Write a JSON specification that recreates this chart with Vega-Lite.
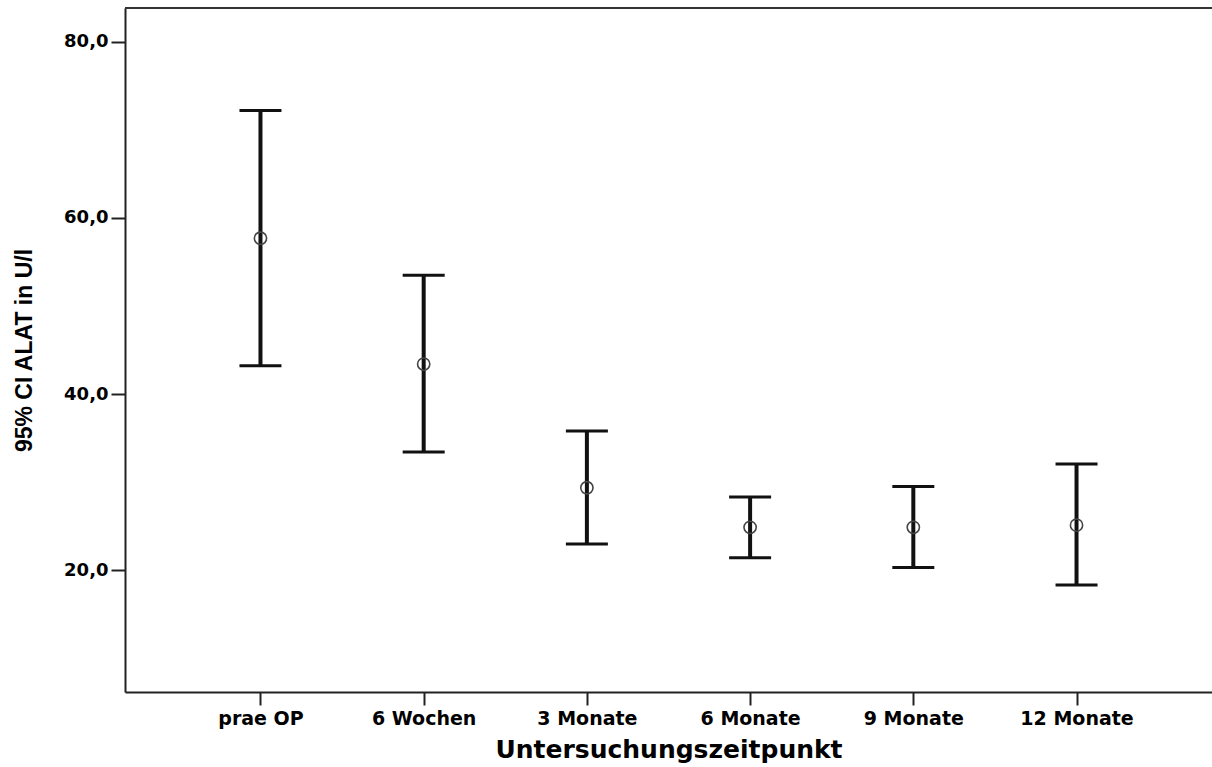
{
  "$schema": "https://vega.github.io/schema/vega-lite/v6.json",
  "autosize": {"type": "none"},
  "padding": {"left": 125, "top": 8, "right": 0, "bottom": 75},
  "width": 1087,
  "height": 684,
  "background": "white",
  "view": {"stroke": null},
  "config": {
    "axis": {
      "grid": false,
      "domainColor": "#222222",
      "domainWidth": 2,
      "tickColor": "#222222",
      "tickWidth": 2,
      "labelColor": "#000000",
      "titleColor": "#000000",
      "labelFont": "DejaVu Sans",
      "labelFontWeight": "bold"
    }
  },
  "data": {
    "values": [
      {"zeit": "prae OP", "lo": 43.2, "hi": 72.2, "mean": 57.7},
      {"zeit": "6 Wochen", "lo": 33.4, "hi": 53.5, "mean": 43.4},
      {"zeit": "3 Monate", "lo": 22.95, "hi": 35.8, "mean": 29.35},
      {"zeit": "6 Monate", "lo": 21.4, "hi": 28.3, "mean": 24.85},
      {"zeit": "9 Monate", "lo": 20.3, "hi": 29.5, "mean": 24.85},
      {"zeit": "12 Monate", "lo": 18.3, "hi": 32.05, "mean": 25.1}
    ]
  },
  "layer": [
    {
      "mark": {"type": "rule", "strokeWidth": 4, "color": "#111111"},
      "encoding": {
        "x": {
          "field": "zeit", "type": "nominal", "sort": null,
          "scale": {"type": "point", "padding": 0.83},
          "axis": {
            "title": "Untersuchungszeitpunkt",
            "labelAngle": 0,
            "labelFontSize": 19,
            "labelPadding": 4,
            "tickSize": 13,
            "titleFont": "DejaVu Sans",
            "titleFontWeight": "bold",
            "titleFontSize": 25,
            "titlePadding": 9
          }
        },
        "y": {
          "field": "lo", "type": "quantitative",
          "scale": {"domain": [6.14, 83.86], "nice": false, "zero": false},
          "axis": {
            "title": "95% CI ALAT in U/l",
            "values": [20, 40, 60, 80],
            "labelExpr": "replace(format(datum.value, '.1f'), '.', ',')",
            "labelFontSize": 18,
            "labelPadding": 3,
            "tickSize": 14,
            "titleFont": "Liberation Sans",
            "titleFontWeight": "bold",
            "titleFontSize": 23,
            "titlePadding": 27
          }
        },
        "y2": {"field": "hi"}
      }
    },
    {
      "mark": {"type": "tick", "size": 42, "thickness": 3, "color": "#111111", "opacity": 1},
      "encoding": {
        "x": {"field": "zeit", "type": "nominal", "sort": null},
        "y": {"field": "lo", "type": "quantitative", "title": "95% CI ALAT in U/l"}
      }
    },
    {
      "mark": {"type": "tick", "size": 42, "thickness": 3, "color": "#111111", "opacity": 1},
      "encoding": {
        "x": {"field": "zeit", "type": "nominal", "sort": null},
        "y": {"field": "hi", "type": "quantitative", "title": "95% CI ALAT in U/l"}
      }
    },
    {
      "mark": {"type": "point", "filled": false, "size": 150, "stroke": "#444444", "strokeWidth": 1.6, "opacity": 1},
      "encoding": {
        "x": {"field": "zeit", "type": "nominal", "sort": null},
        "y": {"field": "mean", "type": "quantitative", "title": "95% CI ALAT in U/l"}
      }
    },
    {
      "data": {"values": [{"rand": "oben"}]},
      "mark": {"type": "rule", "strokeWidth": 2, "color": "#333333"},
      "encoding": {
        "y": {"datum": 83.86, "type": "quantitative", "title": "95% CI ALAT in U/l"}
      }
    }
  ]
}
